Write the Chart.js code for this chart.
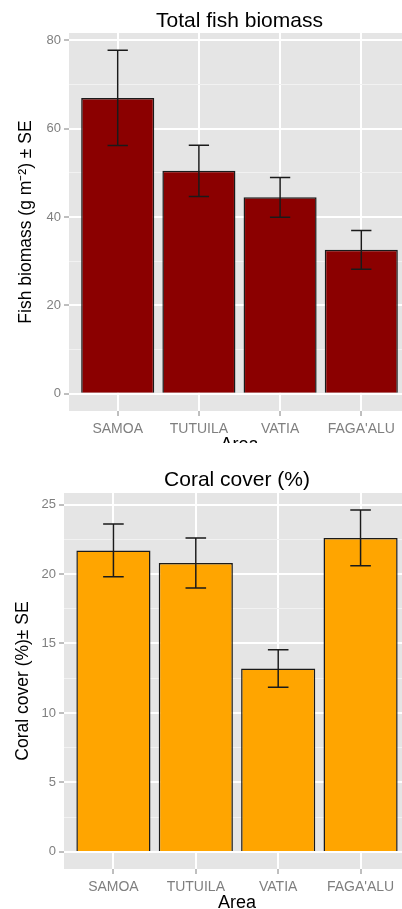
<!DOCTYPE html>
<html>
<head>
<meta charset="utf-8">
<title>Fish biomass and coral cover</title>
<script src="https://cdn.jsdelivr.net/npm/chart.js@4/dist/chart.umd.min.js"></script>
<style>
  body { margin: 0; background: #fff; overflow: hidden; }
  #page { position: relative; width: 402px; height: 909px; overflow: hidden; background: #fff; }
  #fish-wrap { position: absolute; left: 0; top: 0; width: 410px; height: 443px; overflow: hidden; }
  #coral-wrap { position: absolute; left: 0; top: 455px; width: 410px; height: 460px; }
  canvas { display: block; }
</style>
</head>
<body>
<div id="page">
  <div id="fish-wrap"><canvas id="fish-canvas" width="410" height="456"></canvas></div>
  <div id="coral-wrap"><canvas id="coral-canvas" width="410" height="460"></canvas></div>
</div>
<script>
"use strict";

let areas = ["SAMOA", "TUTUILA", "VATIA", "FAGA'ALU"];

let fishBiomass = [67.0, 50.5, 44.5, 32.6];
let fishSE = [10.8, 5.8, 4.5, 4.4];
let fishTicks = [0, 20, 40, 60, 80];

let coralCover = [21.7, 20.8, 13.2, 22.6];
let coralSE = [1.9, 1.8, 1.35, 2.0];
let coralTicks = [0, 5, 10, 15, 20, 25];

let fontFamily = "'Liberation Sans', Arial, sans-serif";

// grey ggplot-style panel behind the bars
let panelBg = {
  id: "panelBg",
  beforeDraw(chart) {
    let a = chart.chartArea;
    let ctx = chart.ctx;
    ctx.save();
    ctx.fillStyle = "#e5e5e5";
    ctx.fillRect(a.left, a.top, a.right - a.left, a.bottom - a.top);
    ctx.restore();
  }
};

function errorBarPlugin(values, se) {
  return {
    id: "errorBars",
    afterDatasetsDraw(chart) {
      let ctx = chart.ctx;
      let x = chart.scales.x;
      let y = chart.scales.y;
      ctx.save();
      ctx.strokeStyle = "#1a1a1a";
      ctx.lineWidth = 1.5;
      for (let i = 0; i < values.length; i++) {
        let cx = x.getPixelForValue(i + 1);
        let left = x.getPixelForValue(i + 1 - 0.125);
        let right = x.getPixelForValue(i + 1 + 0.125);
        let top = y.getPixelForValue(values[i] + se[i]);
        let bottom = y.getPixelForValue(values[i] - se[i]);
        ctx.beginPath();
        ctx.moveTo(cx, top);
        ctx.lineTo(cx, bottom);
        ctx.moveTo(left, top);
        ctx.lineTo(right, top);
        ctx.moveTo(left, bottom);
        ctx.lineTo(right, bottom);
        ctx.stroke();
      }
      ctx.restore();
    }
  };
}

function makeChart(canvasId, o) {
  let hi = 0;
  for (let i = 0; i < o.values.length; i++) {
    hi = Math.max(hi, o.values[i] + o.se[i]);
  }
  // major ticks plus the minor ones halfway between
  let step = o.ticks[1] - o.ticks[0];
  let allTicks = [];
  for (let t of o.ticks) {
    allTicks.push(t);
    if (t + step / 2 < hi * 1.05) allTicks.push(t + step / 2);
  }
  let isMajor = (v) => o.ticks.includes(v);

  let ctx = document.getElementById(canvasId);
  return new Chart(ctx, {
    type: "bar",
    data: {
      datasets: [{
        data: o.values.map((v, i) => ({ x: i + 1, y: v })),
        backgroundColor: o.color,
        borderColor: "#1a1a1a",
        borderWidth: 1.5,
        barPercentage: 0.9,
        categoryPercentage: 1
      }]
    },
    options: {
      responsive: false,
      animation: false,
      layout: { padding: 0 },
      plugins: {
        legend: { display: false },
        tooltip: { enabled: false },
        title: {
          display: true,
          fullSize: false,
          text: o.title,
          color: "#000",
          font: { family: fontFamily, size: 21, weight: "normal", lineHeight: 1 },
          padding: o.titlePad
        }
      },
      scales: {
        x: {
          type: "linear",
          min: 0.4,
          max: 4.6,
          offset: false,
          afterBuildTicks: (scale) => {
            scale.ticks = areas.map((a, i) => ({ value: i + 1 }));
          },
          afterFit: (scale) => { scale.height = o.xHeight; },
          border: { display: false },
          grid: {
            offset: false,
            color: "#fff",
            lineWidth: 2,
            tickLength: 5,
            tickWidth: 1,
            tickColor: "#7f7f7f"
          },
          ticks: {
            autoSkip: false,
            maxRotation: 0,
            padding: 5,
            color: "#7f7f7f",
            font: { family: fontFamily, size: 14 },
            callback: (v) => areas[v - 1] || ""
          },
          title: {
            display: true,
            text: "Area",
            color: "#000",
            font: { family: fontFamily, size: 18 },
            padding: { top: 0, bottom: o.areaPad }
          }
        },
        y: {
          min: -0.05 * hi,
          max: 1.05 * hi,
          afterBuildTicks: (scale) => {
            scale.ticks = allTicks.map((v) => ({ value: v }));
          },
          afterFit: (scale) => { scale.width = o.yWidth; },
          border: { display: false },
          grid: {
            color: (c) => isMajor(c.tick.value) ? "#fff" : "#f2f2f2",
            lineWidth: (c) => isMajor(c.tick.value) ? 2 : 1,
            tickLength: 5,
            tickWidth: 1,
            tickColor: (c) => isMajor(c.tick.value) ? "#7f7f7f" : "rgba(0,0,0,0)"
          },
          ticks: {
            padding: 3,
            color: "#7f7f7f",
            font: { family: fontFamily, size: 13 },
            callback: (v) => isMajor(v) ? String(v) : ""
          },
          title: {
            display: true,
            text: o.yTitle,
            color: "#000",
            font: { family: fontFamily, size: 17.5 },
            padding: { top: o.yTitlePad, bottom: 0 }
          }
        }
      }
    },
    plugins: [panelBg, errorBarPlugin(o.values, o.se)]
  });
}

makeChart("fish-canvas", {
  title: "Total fish biomass",
  yTitle: "Fish biomass (g m\u207B\u00B2) \u00B1 SE",
  values: fishBiomass,
  se: fishSE,
  ticks: fishTicks,
  color: "#8b0000",
  titlePad: { top: 11, bottom: 1 },
  yWidth: 69,
  yTitlePad: 16,
  xHeight: 45,
  areaPad: 0
});

makeChart("coral-canvas", {
  title: "Coral cover (%)",
  yTitle: "Coral cover (%)\u00B1 SE",
  values: coralCover,
  se: coralSE,
  ticks: coralTicks,
  color: "#ffa500",
  titlePad: { top: 15, bottom: 2 },
  yWidth: 64,
  yTitlePad: 13,
  xHeight: 46,
  areaPad: 1
});
</script>
</body>
</html>
